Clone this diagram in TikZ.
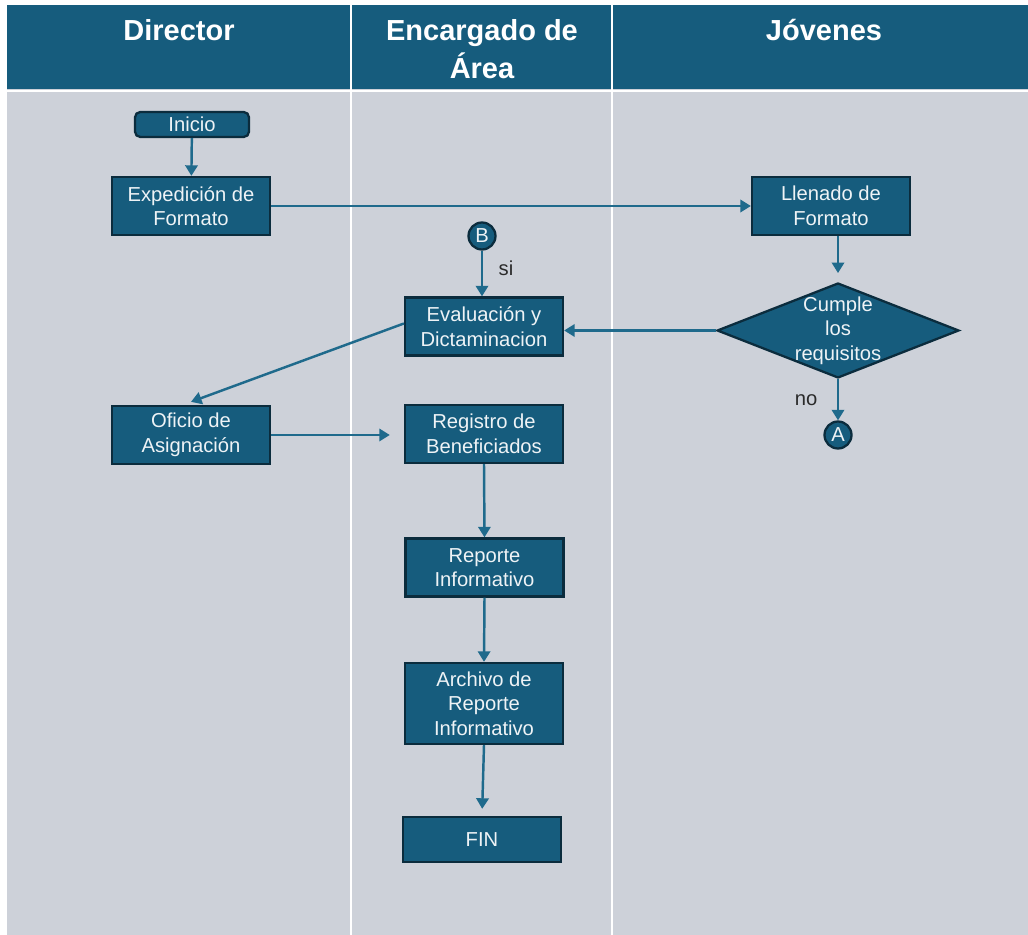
\documentclass[tikz,border=0pt]{standalone}
\usepackage{fontspec}
\setmainfont{Liberation Sans}
\usetikzlibrary{arrows.meta,shapes.geometric}
\definecolor{banda}{HTML}{165C7D}
\definecolor{fondo}{HTML}{CDD1D9}
\definecolor{borde}{HTML}{0B2C3D}
\definecolor{flecha}{HTML}{1F6A8C}
\definecolor{etiq}{HTML}{2A2A2A}
\definecolor{letra}{HTML}{EEF3F6}

\begin{document}
\begin{tikzpicture}[x=0.02cm,y=-0.02cm,
  caja/.style={draw=borde,line width=1.3pt,fill=banda,text=letra,
    font=\fontsize{11.5}{14}\selectfont,align=center,
    minimum width=3.16cm,minimum height=1.16cm,inner sep=1pt},
  conector/.style={circle,draw=borde,line width=1.3pt,fill=banda,text=letra,
    font=\fontsize{11.5}{13}\selectfont,minimum size=0.54cm,inner sep=0pt},
  titulo/.style={text=white,font=\fontsize{16.5}{21.5}\selectfont\bfseries,align=center},
  flujo/.style={draw=flecha,line width=1.4pt,-{Triangle[length=6pt,width=7pt]}}]
\useasboundingbox (0,0) rectangle (1028,935);
\fill[fondo] (7,5) rectangle (1028,935);
\fill[banda] (7,5) rectangle (1028,89);
\draw[white,line width=1.2pt] (7,91) -- (1028,91);
\draw[white,line width=1.2pt] (351,5) -- (351,935);
\draw[white,line width=1.2pt] (612,5) -- (612,935);
\node[titulo] (hdir) at (179,30) {Director};
\node[titulo] (henc) at (482,49) {Encargado de\\Área};
\node[titulo] (hjov) at (824,30) {Jóvenes};

\node[caja,rounded corners=3pt,minimum width=2.28cm,minimum height=0.5cm] (inicio) at (192,124.5) {Inicio};
\node[caja] (expedicion) at (191,206) {Expedición de\\Formato};
\node[caja] (llenado) at (831,206) {Llenado de\\Formato};
\node[conector] (b) at (482,236) {B};
\node[caja] (evaluacion) at (484,326.5) {Evaluación y\\Dictaminacion};
\node[diamond,draw=borde,line width=1.3pt,fill=banda,minimum width=4.84cm,minimum height=1.9cm,inner sep=0pt,
  label={[text=letra,font=\fontsize{11.5}{14}\selectfont,align=center]center:Cumple\\los\\requisitos}] (cumple) at (838,330.5) {};
\node[conector] (a) at (838,435) {A};
\node[caja] (oficio) at (191,435) {Oficio de\\Asignación};
\node[caja] (registro) at (484,434) {Registro de\\Beneficiados};
\node[caja] (reporte) at (484.5,567.5) {Reporte\\Informativo};
\node[caja,minimum height=1.62cm] (archivo) at (484,703.5) {Archivo de\\Reporte\\Informativo};
\node[caja,minimum height=0.9cm] (fin) at (482,839.5) {FIN};
\node[text=etiq,font=\fontsize{11.5}{13}\selectfont] (si) at (506,268) {si};
\node[text=etiq,font=\fontsize{11.5}{13}\selectfont] (no) at (806,400) {no};

\draw[flujo] (inicio) -- (expedicion);
\draw[flujo] (expedicion) -- (llenado);
\draw[flujo] (b) -- (b |- evaluacion.north);
\draw[flujo,shorten >=5pt] (llenado.south -| cumple) -- (cumple.north);
\draw[flujo] (cumple.west) -- (cumple.west -| evaluacion.east);
\draw[flujo] ([yshift=0.06cm]evaluacion.west) -- ([yshift=0.06cm]oficio.north);
\draw[flujo,shorten >=8pt] (oficio.east) -- (oficio.east -| registro.west);
\draw[flujo] (registro.south) -- (reporte.north);
\draw[flujo] (reporte.south) -- (archivo.north);
\draw[flujo,shorten >=4pt] (archivo.south) -- (fin.north);
\draw[flujo] (cumple.south) -- (a.north);
\end{tikzpicture}
\end{document}
